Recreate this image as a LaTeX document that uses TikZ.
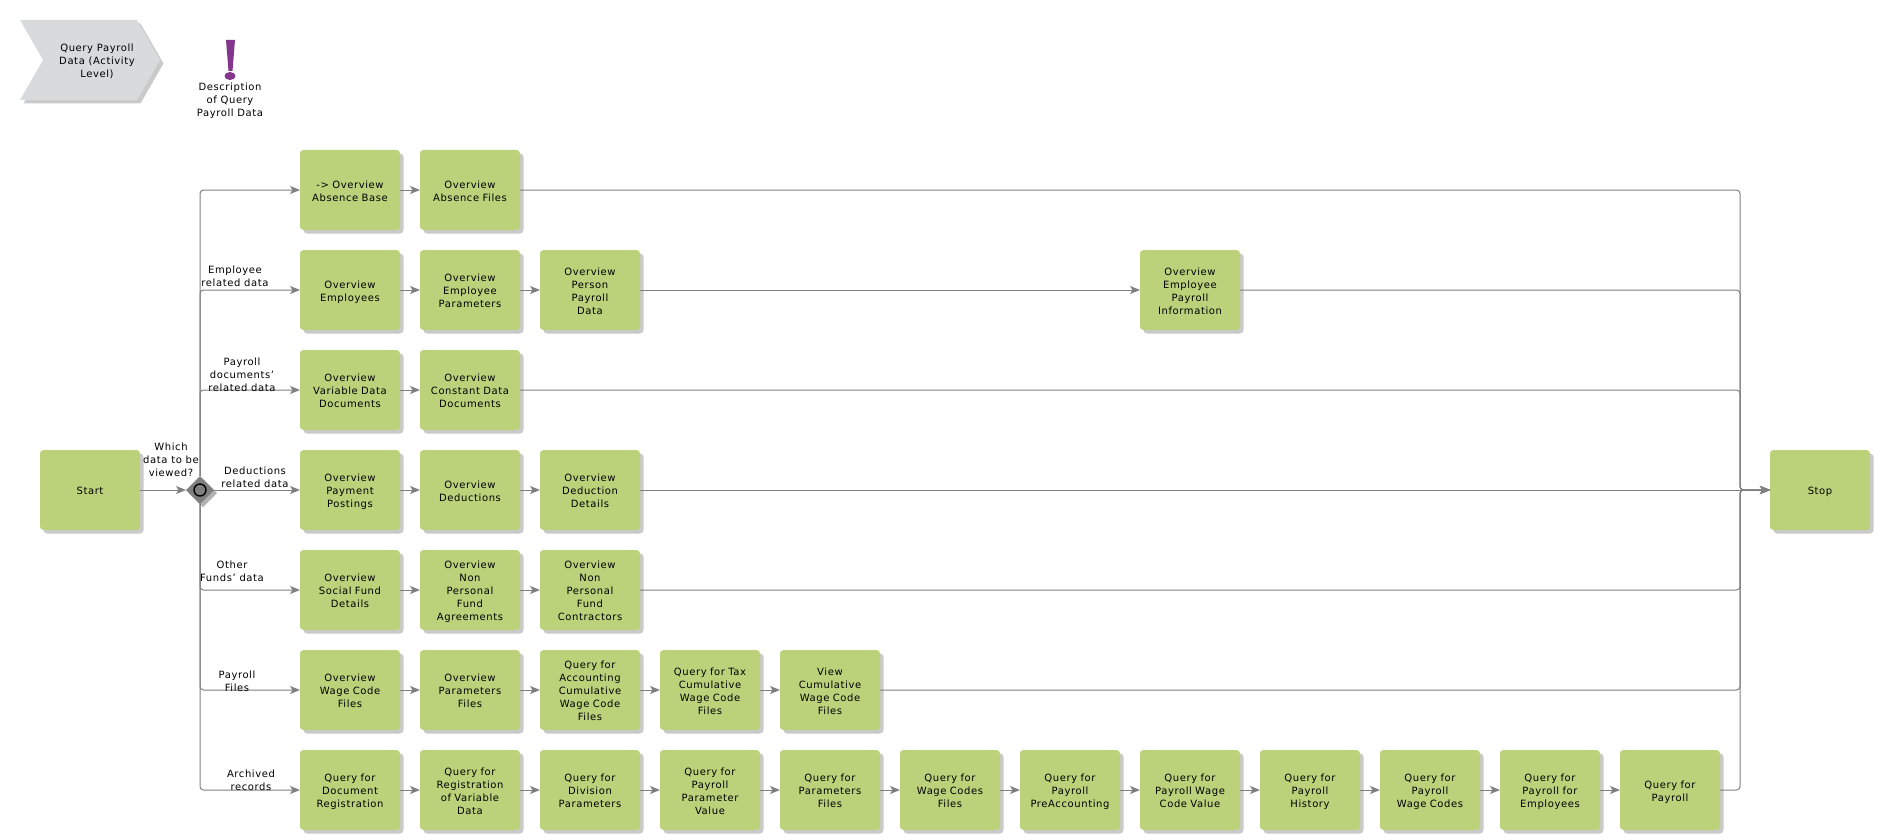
\documentclass[tikz,border=0pt]{standalone}
\usepackage{xcolor}
\usepackage{fontspec}
\setmainfont[LetterSpace=6]{DejaVu Sans}
\usepackage{tikz}
\usetikzlibrary{calc}
\usetikzlibrary{arrows.meta}
\usetikzlibrary{shadows}
\usetikzlibrary{shapes.geometric}
\definecolor{boxgreen}{HTML}{BBD27B}
\definecolor{chevgray}{HTML}{D9DADC}
\definecolor{linegray}{HTML}{808080}
\definecolor{shadegray}{HTML}{CACACA}
\definecolor{markpurple}{HTML}{84368C}
\newcommand{\lbl}{\fontsize{10}{13}\selectfont}
\newcommand{\lblstrut}{\rule[-2pt]{0pt}{13.5pt}}
\tikzset{
    boxshade/.style={general shadow={fill=shadegray, shadow xshift=3.5pt, shadow yshift=-3.5pt}},
    lbl/.style={align=center, font=\lbl, inner sep=0pt, execute at end node=\rule[-2pt]{0pt}{2pt}},
    actbox/.style={lbl, text width=100pt, execute at begin node=\lblstrut, fill=boxgreen, rounded corners=3.5pt, minimum width=100pt, minimum height=80pt, outer sep=0pt, boxshade},
    flow/.style={draw=linegray, line width=1pt, rounded corners=3.5pt, -{Stealth[length=10pt,width=8pt,inset=2.5pt]}},
    gate/.style={diamond, aspect=1, fill=linegray, minimum size=28pt, inner sep=0pt, outer sep=0pt, general shadow={fill=gray!60, shadow xshift=3pt, shadow yshift=-3pt}},
    gatering/.style={circle, draw=black, line width=1.4pt, minimum size=12pt, inner sep=0pt},
}
\begin{document}
\begin{tikzpicture}[x=10pt,y=-10pt]
    \path[use as bounding box] (0,0) rectangle (188,84);
    % header
    \path[fill=shadegray, shift={(3.5pt,-3.5pt)}] (2,2) -- (13.7,2) -- (16,6) -- (13.7,10) -- (2,10) -- (4.3,6) -- cycle;
    \path[fill=chevgray] (2,2) -- (13.7,2) -- (16,6) -- (13.7,10) -- (2,10) -- (4.3,6) -- cycle;
    \node[lbl] (title) at (9.7,6.2) {Query Payroll\\Data (Activity\\Level)};
    \path[fill=markpurple] (22.6,4) -- (23.5,4) -- (23.25,7.1) -- (22.85,7.1) -- cycle;
    \path[fill=markpurple] (23,7.6) ellipse (0.55 and 0.4);
    \node[lbl] (descr) at (23,10.1) {Description\\of Query\\Payroll Data};
    % start, gateway, stop
    \node[actbox] (start) at (9,49) {Start};
    \node[gate] (gw) at (20,49) {};
    \node[gatering] (gwring) at (gw) {};
    \node[actbox] (stop) at (182,49) {Stop};
    \coordinate (merge) at (174,49);
    % row 1
    \node[actbox] (ra1) at (35,19) {-> Overview\\Absence Base};
    \node[actbox] (ra2) at (47,19) {Overview\\Absence Files};
    % row 2
    \node[actbox] (rb1) at (35,29) {Overview\\Employees};
    \node[actbox] (rb2) at (47,29) {Overview\\Employee\\Parameters};
    \node[actbox] (rb3) at (59,29) {Overview\\Person\\Payroll\\Data};
    \node[actbox] (rb4) at (119,29) {Overview\\Employee\\Payroll\\Information};
    % row 3
    \node[actbox] (rc1) at (35,39) {Overview\\Variable Data\\Documents};
    \node[actbox] (rc2) at (47,39) {Overview\\Constant Data\\Documents};
    % row 4
    \node[actbox] (rd1) at (35,49) {Overview\\Payment\\Postings};
    \node[actbox] (rd2) at (47,49) {Overview\\Deductions};
    \node[actbox] (rd3) at (59,49) {Overview\\Deduction\\Details};
    % row 5
    \node[actbox] (re1) at (35,59) {Overview\\Social Fund\\Details};
    \node[actbox] (re2) at (47,59) {Overview\\Non\\Personal\\Fund\\Agreements};
    \node[actbox] (re3) at (59,59) {Overview\\Non\\Personal\\Fund\\Contractors};
    % row 6
    \node[actbox] (rf1) at (35,69) {Overview\\Wage Code\\Files};
    \node[actbox] (rf2) at (47,69) {Overview\\Parameters\\Files};
    \node[actbox] (rf3) at (59,69) {Query for\\Accounting\\Cumulative\\Wage Code\\Files};
    \node[actbox] (rf4) at (71,69) {Query for Tax\\Cumulative\\Wage Code\\Files};
    \node[actbox] (rf5) at (83,69) {View\\Cumulative\\Wage Code\\Files};
    % row 7
    \node[actbox] (rg1) at (35,79) {Query for\\Document\\Registration};
    \node[actbox] (rg2) at (47,79) {Query for\\Registration\\of Variable\\Data};
    \node[actbox] (rg3) at (59,79) {Query for\\Division\\Parameters};
    \node[actbox] (rg4) at (71,79) {Query for\\Payroll\\Parameter\\Value};
    \node[actbox] (rg5) at (83,79) {Query for\\Parameters\\Files};
    \node[actbox] (rg6) at (95,79) {Query for\\Wage Codes\\Files};
    \node[actbox] (rg7) at (107,79) {Query for\\Payroll\\PreAccounting};
    \node[actbox] (rg8) at (119,79) {Query for\\Payroll Wage\\Code Value};
    \node[actbox] (rg9) at (131,79) {Query for\\Payroll\\History};
    \node[actbox] (rg10) at (143,79) {Query for\\Payroll\\Wage Codes};
    \node[actbox] (rg11) at (155,79) {Query for\\Payroll for\\Employees};
    \node[actbox] (rg12) at (167,79) {Query for\\Payroll};
    % connectors
    \draw[flow] (start) -- (gw);
    \foreach \rowname in {ra1, rb1, rc1}
    \draw[flow] (gw.north) |- (\rowname);
    \draw[flow] (gw) -- (rd1);
    \foreach \rowname in {re1, rf1, rg1}
    \draw[flow] (gw.south) |- (\rowname);
    \foreach \from/\to in {ra1/ra2, rb1/rb2, rb2/rb3, rb3/rb4, rc1/rc2, rd1/rd2, rd2/rd3, re1/re2, re2/re3, rf1/rf2, rf2/rf3, rf3/rf4, rf4/rf5, rg1/rg2, rg2/rg3, rg3/rg4, rg4/rg5, rg5/rg6, rg6/rg7, rg7/rg8, rg8/rg9, rg9/rg10, rg10/rg11, rg11/rg12}
    \draw[flow] (\from) -- (\to);
    \foreach \rowname in {ra2, rb4, rc2, re3, rf5, rg12}
    \draw[flow] (\rowname) -| (merge) -- (stop);
    \draw[flow] (rd3) -- (stop);
    % labels
    \node[lbl] (whichlbl) at (17.1,46.1) {Which\\data to be\\viewed?};
    \node[lbl] (emplbl) at (23.5,27.75) {Employee\\related data};
    \node[lbl] (doclbl) at (24.2,37.6) {Payroll\\documents'\\related data};
    \node[lbl] (deductlbl) at (25.5,47.8) {Deductions\\related data};
    \node[lbl] (fundlbl) at (23.2,57.25) {Other\\Funds' data};
    \node[lbl] (fileslbl) at (23.7,68.25) {Payroll\\Files};
    \node[lbl] (archlbl) at (25.1,78.15) {Archived\\records};
\end{tikzpicture}
\end{document}
